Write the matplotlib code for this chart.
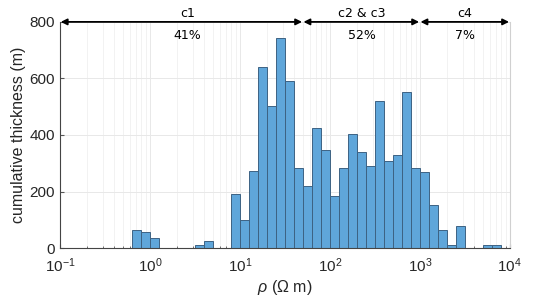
"""Histogram of resistivity vs cumulative thickness, with class arrows on top"""

import numpy as np
import matplotlib
matplotlib.use("Agg")
import matplotlib.pyplot as plt
from matplotlib.ticker import FixedLocator, LogLocator, NullFormatter

# histogram: log10 bin edges (0.1 per bin) and cumulative thickness per bin
log_lo = [-0.2, -0.1, 0.0, 0.1, 0.2, 0.3, 0.4, 0.5, 0.6, 0.7, 0.8,
          0.9, 1.0, 1.1, 1.2, 1.3, 1.4, 1.5, 1.6, 1.7, 1.8,
          1.9, 2.0, 2.1, 2.2, 2.3, 2.4, 2.5, 2.6, 2.7, 2.8,
          2.9, 3.0, 3.1, 3.2, 3.3, 3.4, 3.5, 3.6, 3.7, 3.8]
thickness = [65, 56, 36, 0, 0, 0, 0, 10, 25, 2, 0,
             190, 98, 273, 641, 504, 742, 592, 285, 221, 424,
             346, 186, 284, 405, 341, 291, 522, 309, 330, 553,
             284, 270, 152, 64, 11, 78, 0, 0, 12, 12]
BIN = 0.1

# classes shown as arrows above the plot
class_names = ["c1", "c2 & c3", "c4"]
class_pct = ["41%", "52%", "7%"]
class_edges = [0.1, 50, 1000, 10000]
class_label_x = [2.6, 228, 3162]

plt.rcParams["font.family"] = ["Liberation Sans", "DejaVu Sans"]
plt.rcParams["mathtext.fontset"] = "custom"
plt.rcParams["mathtext.rm"] = "Liberation Sans"
plt.rcParams["mathtext.it"] = "Liberation Sans:italic"

fig = plt.figure(figsize=(5.36, 3.0), dpi=100)
ax = fig.add_axes([0.112, 0.173, 0.839, 0.754])

lo = np.array(log_lo)
h = np.array(thickness)
keep = h > 0
left = 10 ** lo[keep]
width = 10 ** (lo[keep] + BIN) - left
ax.bar(left, h[keep], width=width, align="edge",
       color="#5fa6da", edgecolor="#3d6283", linewidth=0.7, zorder=2)

ax.set_xscale("log")
ax.set_xlim(0.1, 1e4)
ax.set_ylim(0, 800)
ax.xaxis.set_major_locator(FixedLocator([0.1, 1, 10, 100, 1000, 10000]))
ax.set_xticklabels([r"$10^{-1}$", r"$10^{0}$", r"$10^{1}$",
                    r"$10^{2}$", r"$10^{3}$", r"$10^{4}$"])
ax.xaxis.set_minor_locator(LogLocator(base=10, subs=np.arange(2, 10), numticks=20))
ax.xaxis.set_minor_formatter(NullFormatter())
ax.set_yticks([0, 200, 400, 600, 800])

ax.tick_params(axis="both", which="both", direction="in", labelsize=11,
               color="#555555", labelcolor="#262626")
ax.tick_params(which="major", length=3)
ax.tick_params(which="minor", length=1.5)
ax.tick_params(axis="x", pad=6)

ax.grid(True, which="major", color="#e8e8e8", linewidth=0.7, zorder=0)
ax.grid(True, which="minor", axis="x", color="#f0f0f0", linewidth=0.6, zorder=0)
ax.set_axisbelow(True)

for side in ["left", "bottom"]:
    ax.spines[side].set_color("#444444")
    ax.spines[side].set_linewidth(0.8)
ax.spines["top"].set_visible(False)
ax.spines["right"].set_color("#d0d0d0")
ax.spines["right"].set_linewidth(0.8)

ax.set_ylabel("cumulative thickness (m)", fontsize=11.5, color="#262626", labelpad=3)
ax.set_xlabel(r"$\rho$ ($\Omega$ m)", fontsize=11.5, color="#262626", labelpad=2)

# class arrows along the top edge
for i in range(len(class_names)):
    ax.annotate("", xy=(class_edges[i + 1], 800), xytext=(class_edges[i], 800),
                xycoords="data", annotation_clip=False,
                arrowprops=dict(arrowstyle="<|-|>", color="black", lw=1.3,
                                mutation_scale=9, shrinkA=0.5, shrinkB=0.5))
    ax.text(class_label_x[i], 806, class_names[i], ha="center", va="bottom",
            fontsize=9, family="DejaVu Sans", clip_on=False)
    ax.text(class_label_x[i], 774, class_pct[i], ha="center", va="top",
            fontsize=9, family="DejaVu Sans")

fig.savefig("out.png", dpi=100)
